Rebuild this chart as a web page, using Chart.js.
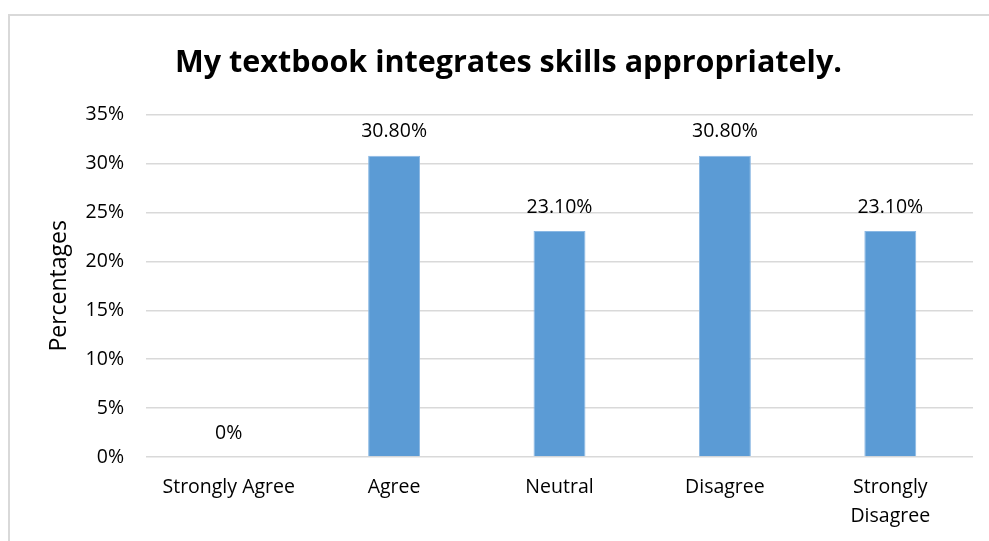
<!DOCTYPE html>
<html>
<head>
<meta charset="utf-8">
<script src="https://cdn.jsdelivr.net/npm/chart.js@4"></script>
<style>
  body { margin: 0; background: #fff; }
  #frame { position: absolute; left: 8px; top: 14px; width: 990px; height: 540px; border: 2px solid #d9d9d9; box-sizing: border-box; }
  #wrap { position: absolute; left: 0; top: 0; width: 989px; height: 541px; }
</style>
</head>
<body>
<div id="frame"></div>
<div id="wrap"><canvas id="myChart"></canvas></div>
<script>
var categories = ["Strongly Agree", "Agree", "Neutral", "Disagree", ["Strongly", "Disagree"]];
var values     = [0, 30.8, 23.1, 30.8, 23.1];
var valueText  = ["0%", "30.80%", "23.10%", "30.80%", "23.10%"];
var yTicks     = [0, 5, 10, 15, 20, 25, 30, 35];

var FONT = "'Open Sans', Lato, sans-serif";

// value labels above each bar
var barLabels = {
    id: 'barLabels',
    afterDatasetsDraw: function(chart){
        var c = chart.ctx;
        var meta = chart.getDatasetMeta(0);
        c.save();
        c.font = "19.5px " + FONT;
        c.fillStyle = "#000";
        c.textAlign = "center";
        c.textBaseline = "middle";
        meta.data.forEach(function(bar, i){
            c.fillText(valueText[i], bar.x, bar.y - 24);
        });
        c.restore();
    }
};

var ctx = document.getElementById("myChart");
var chart = new Chart(ctx, {
    type: 'bar',
    data: {
        labels: categories,
        datasets: [{
            data: values,
            backgroundColor: '#5b9bd5',
            borderColor: '#8ab8e4',
            borderWidth: 1,
            barPercentage: 0.314,
            categoryPercentage: 1
        }]
    },
    options: {
        responsive: true,
        maintainAspectRatio: false,
        animation: false,
        layout: { padding: { left: 44, right: 16, top: 0, bottom: 0 } },
        plugins: {
            legend: { display: false },
            tooltip: { enabled: false },
            title: {
                display: true,
                text: "My textbook integrates skills appropriately.",
                color: "#000",
                font: { family: FONT, size: 30.5, weight: 'bold', lineHeight: 1.2 },
                padding: { top: 45, bottom: 33 }
            }
        },
        scales: {
            x: {
                grid: { display: false, drawTicks: false },
                border: { display: false },
                ticks: { color: "#000", font: { family: FONT, size: 19.5, lineHeight: 1.5 }, padding: 16, maxRotation: 0, autoSkip: false },
                afterFit: function(scale){ scale.height = 84; }
            },
            y: {
                min: 0,
                max: 35,
                afterBuildTicks: function(scale){
                    scale.ticks = yTicks.map(function(v){ return { value: v }; });
                },
                grid: { color: "#d9d9d9", lineWidth: 1.5, drawTicks: false },
                border: { display: false },
                ticks: {
                    color: "#000",
                    font: { family: FONT, size: 19.5 },
                    padding: 22,
                    callback: function(v){ return v + "%"; }
                },
                title: {
                    display: true,
                    text: "Percentages",
                    color: "#000",
                    font: { family: FONT, size: 23 },
                    padding: { top: 2, bottom: 0 }
                },
                afterFit: function(scale){ scale.width = 102; }
            }
        }
    },
    plugins: [barLabels]
});
</script>
</body>
</html>
